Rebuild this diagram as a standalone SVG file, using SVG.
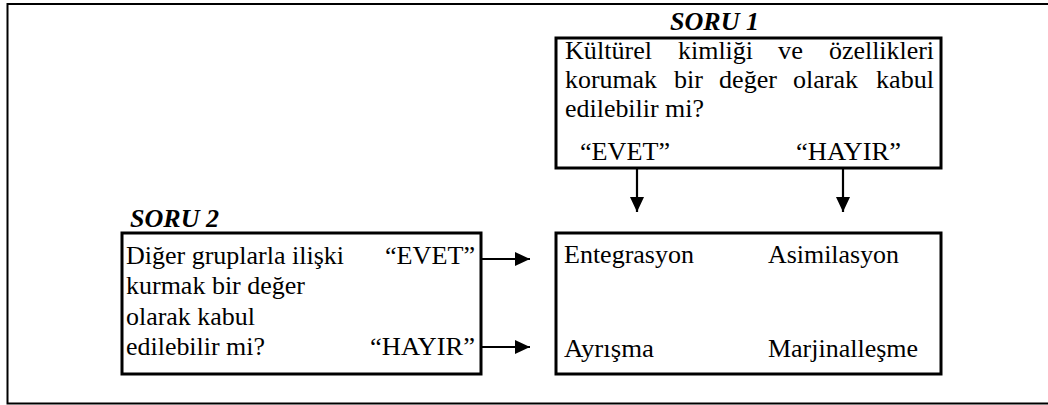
<svg xmlns="http://www.w3.org/2000/svg" width="1048" height="405" viewBox="0 0 1048 405" font-family="Liberation Serif, Tinos, Times New Roman, DejaVu Serif, serif">
<style>
text{font-size:26px;fill:#000}
.h{font-weight:bold;font-style:italic}
.box{fill:#fff;stroke:#000;stroke-width:3}
.ln{stroke:#000;stroke-width:2.2;fill:none}
</style>
<defs>
<marker id="ah" markerWidth="15" markerHeight="14" refX="15" refY="7" orient="auto" markerUnits="userSpaceOnUse">
<path d="M0,0 L15,7 L0,14 Z" fill="#000"/>
</marker>
</defs>
<g id="frame">
<path d="M1048,4 H7.5 V403.5 H1048" fill="none" stroke="#000" stroke-width="2"/>
</g>
<g id="soru1">
<text class="h" x="670" y="30" textLength="89" lengthAdjust="spacingAndGlyphs">SORU 1</text>
<rect class="box" x="556" y="38" width="385" height="130"/>
<text x="565" y="59" textLength="87" lengthAdjust="spacingAndGlyphs">Kültürel</text>
<text x="678" y="59" textLength="75" lengthAdjust="spacingAndGlyphs">kimliği</text>
<text x="778" y="59" textLength="25" lengthAdjust="spacingAndGlyphs">ve</text>
<text x="829" y="59" textLength="105" lengthAdjust="spacingAndGlyphs">özellikleri</text>
<text x="565" y="88" textLength="92" lengthAdjust="spacingAndGlyphs">korumak</text>
<text x="674" y="88" textLength="29" lengthAdjust="spacingAndGlyphs">bir</text>
<text x="719" y="88" textLength="58" lengthAdjust="spacingAndGlyphs">değer</text>
<text x="793" y="88" textLength="65" lengthAdjust="spacingAndGlyphs">olarak</text>
<text x="876" y="88" textLength="58" lengthAdjust="spacingAndGlyphs">kabul</text>
<text x="565" y="117" textLength="139" lengthAdjust="spacingAndGlyphs">edilebilir mi?</text>
<text x="580" y="160" textLength="90" lengthAdjust="spacingAndGlyphs">“EVET”</text>
<text x="796" y="160" textLength="105" lengthAdjust="spacingAndGlyphs">“HAYIR”</text>
</g>
<g id="soru2">
<text class="h" x="130" y="227" textLength="89" lengthAdjust="spacingAndGlyphs">SORU 2</text>
<rect class="box" x="122" y="233" width="359" height="141"/>
<text x="126" y="264" textLength="218" lengthAdjust="spacingAndGlyphs">Diğer gruplarla ilişki</text>
<text x="385" y="264" textLength="90" lengthAdjust="spacingAndGlyphs">“EVET”</text>
<text x="126" y="294" textLength="179" lengthAdjust="spacingAndGlyphs">kurmak bir değer</text>
<text x="126" y="325" textLength="129" lengthAdjust="spacingAndGlyphs">olarak kabul</text>
<text x="126" y="355" textLength="139" lengthAdjust="spacingAndGlyphs">edilebilir mi?</text>
<text x="370" y="355" textLength="105" lengthAdjust="spacingAndGlyphs">“HAYIR”</text>
</g>
<g id="sonuc">
<rect class="box" x="556" y="233" width="385" height="141"/>
<text x="564" y="263" textLength="130" lengthAdjust="spacingAndGlyphs">Entegrasyon</text>
<text x="768" y="263" textLength="131" lengthAdjust="spacingAndGlyphs">Asimilasyon</text>
<text x="564" y="357" textLength="90" lengthAdjust="spacingAndGlyphs">Ayrışma</text>
<text x="768" y="357" textLength="150" lengthAdjust="spacingAndGlyphs">Marjinalleşme</text>
</g>
<g id="connectors">
<line class="ln" x1="637" y1="168" x2="637" y2="212" marker-end="url(#ah)"/>
<line class="ln" x1="843" y1="168" x2="843" y2="212" marker-end="url(#ah)"/>
<line class="ln" x1="481" y1="259" x2="530" y2="259" marker-end="url(#ah)"/>
<line class="ln" x1="481" y1="347" x2="530" y2="347" marker-end="url(#ah)"/>
</g>
</svg>
